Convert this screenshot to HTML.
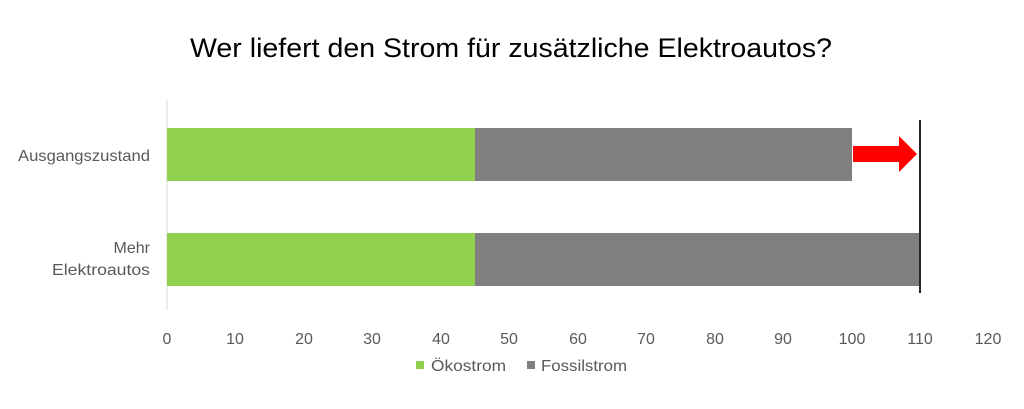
<!DOCTYPE html>
<html><head><meta charset="utf-8"><style>
body{margin:0;background:#fff;}
svg{display:block;font-family:"Liberation Sans",Carlito,sans-serif;}
</style></head><body>
<svg width="1024" height="409" viewBox="0 0 1024 409">
<text x="190" y="57" font-size="27" fill="#000" textLength="642" lengthAdjust="spacingAndGlyphs">Wer liefert den Strom für zusätzliche Elektroautos?</text>
<line x1="167" y1="100" x2="167" y2="310" stroke="#d9d9d9" stroke-width="1"/>
<rect x="167" y="128" width="308" height="53" fill="#92d050"/>
<rect x="475" y="128" width="377" height="53" fill="#7f7f7f"/>
<rect x="167" y="233" width="308" height="53" fill="#92d050"/>
<rect x="475" y="233" width="445" height="53" fill="#7f7f7f"/>
<polygon points="853,146 899,146 899,136 917,154 899,172 899,162 853,162" fill="#ff0000"/>
<line x1="920" y1="120" x2="920" y2="293" stroke="#262626" stroke-width="2"/>
<g font-size="16" fill="#595959">
<text x="18" y="161" textLength="132" lengthAdjust="spacingAndGlyphs">Ausgangszustand</text>
<text x="150" y="253" text-anchor="end">Mehr</text>
<text x="52" y="275" textLength="98" lengthAdjust="spacingAndGlyphs">Elektroautos</text>
</g>
<g font-size="16" fill="#595959" text-anchor="middle">
<text x="167" y="344">0</text><text x="235" y="344">10</text><text x="304" y="344">20</text>
<text x="372" y="344">30</text><text x="441" y="344">40</text><text x="509" y="344">50</text>
<text x="578" y="344">60</text><text x="646" y="344">70</text><text x="715" y="344">80</text>
<text x="783" y="344">90</text><text x="852" y="344">100</text><text x="920" y="344">110</text>
<text x="988" y="344">120</text>
</g>
<rect x="416" y="361" width="8" height="8" fill="#92d050"/>
<text x="431" y="371" font-size="16" fill="#595959" textLength="75" lengthAdjust="spacingAndGlyphs">Ökostrom</text>
<rect x="527" y="361" width="8" height="8" fill="#7f7f7f"/>
<text x="541" y="371" font-size="16" fill="#595959" textLength="86" lengthAdjust="spacingAndGlyphs">Fossilstrom</text>
</svg>
</body></html>
